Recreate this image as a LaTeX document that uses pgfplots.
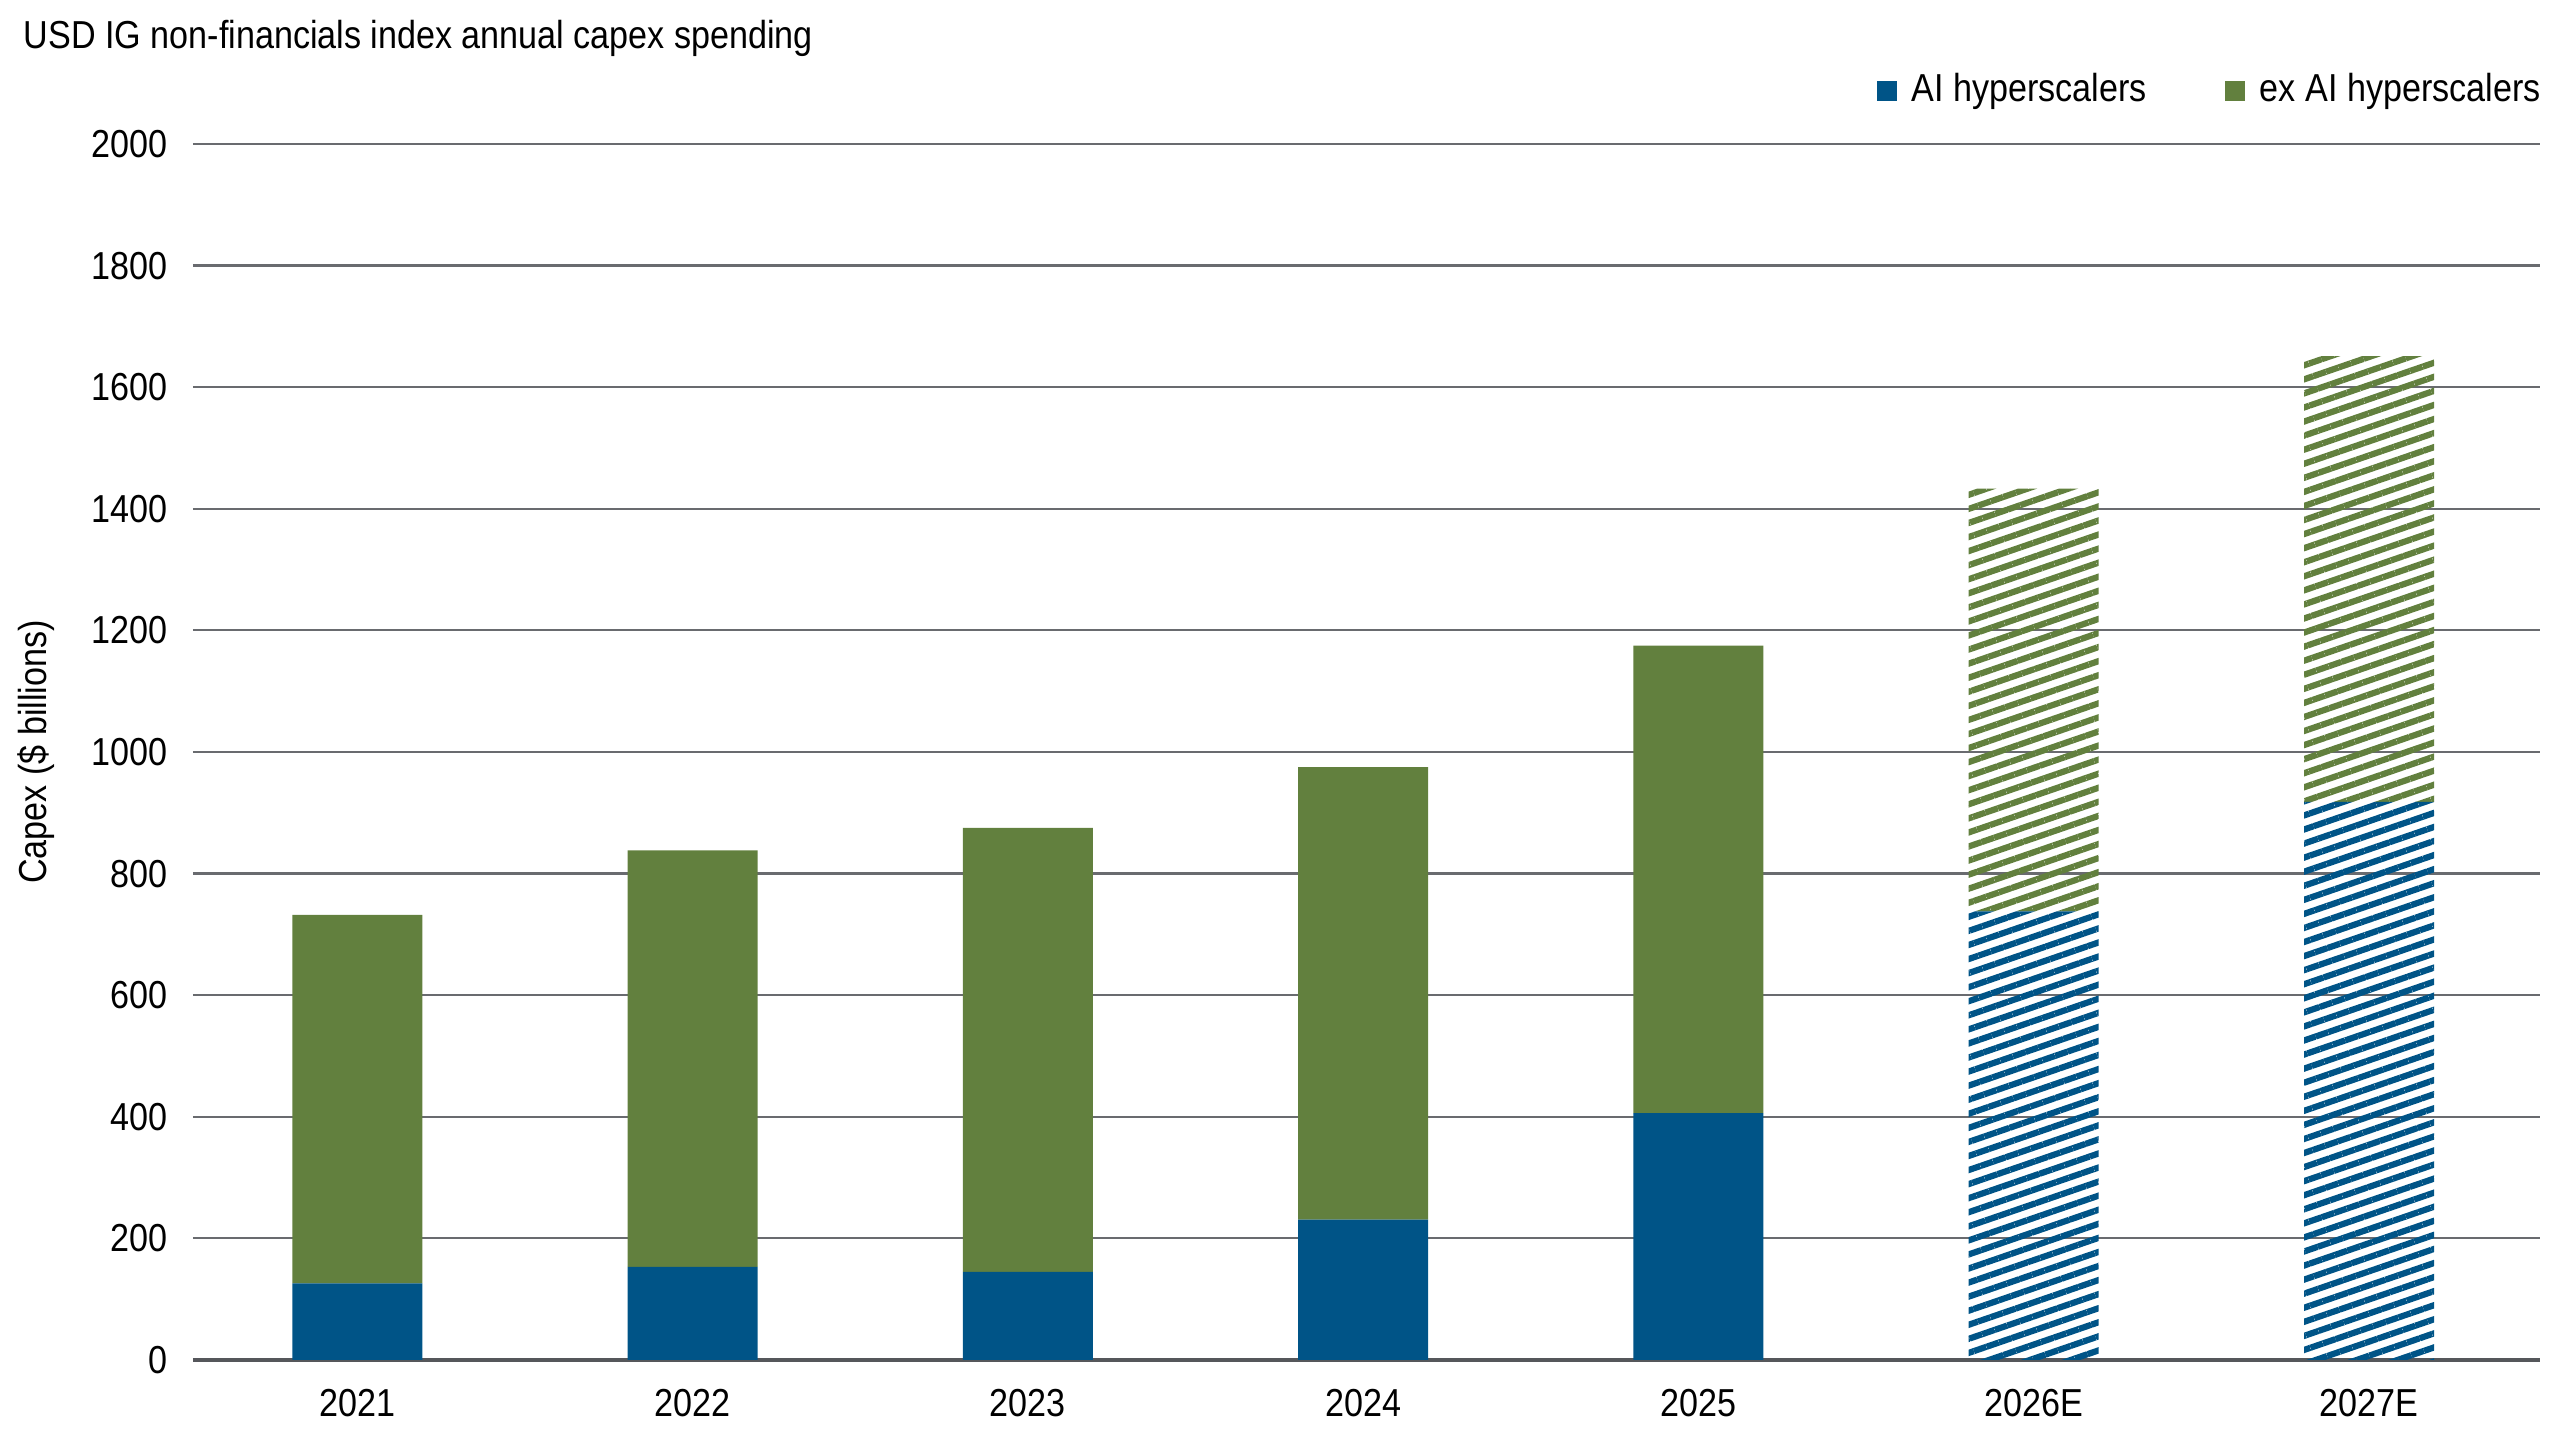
\documentclass[border=0pt]{standalone}
\usepackage{fontspec}
\setmainfont{Liberation Sans}[FakeStretch=0.875]
\usepackage{pgfplots}
\pgfplotsset{compat=1.18}
\usetikzlibrary{patterns.meta}
\definecolor{hblue}{RGB}{0,84,135}
\definecolor{hgreen}{RGB}{98,128,62}
\definecolor{gridgray}{RGB}{105,107,111}
\definecolor{axisgray}{RGB}{85,87,91}
\newcommand{\cf}{\fontsize{11.1pt}{13pt}\selectfont}
\begin{document}
\begin{tikzpicture}[font=\cf]
\path[use as bounding box] (0,0) rectangle (256mm,144mm);
\node[anchor=base west, inner sep=0pt] at (2.3mm,139.1mm) {USD IG non-financials index annual capex spending};
\begin{axis}[
  at={(19.3mm,8mm)}, anchor=south west,
  scale only axis, width=234.7mm, height=121.6mm,
  ybar stacked, bar width=13mm,
  xmin=-0.49, xmax=6.51, ymin=0, ymax=2000,
  xtick={0,1,2,3,4,5,6},
  xticklabels={2021,2022,2023,2024,2025,2026E,2027E},
  ytick={0,200,...,2000},
  major tick length=0pt,
  /pgf/number format/assume math mode=true,
  /pgf/number format/1000 sep={},
  tick label style={font=\cf, text=black},
  xticklabel style={yshift=-1.7mm},
  yticklabel style={xshift=-1.3mm},
  ymajorgrids, grid style={gridgray, line width=0.22mm},
  axis x line*=bottom, axis y line*=left,
  x axis line style={axisgray, line width=0.45mm, -},
  y axis line style={draw=none},
  ylabel={Capex (\$ billions)},
  ylabel style={font=\cf, at={(axis description cs:-0.0669,0.5)}, anchor=center},
  legend style={at={(rel axis cs:1,1)}, anchor=south east, draw=none, fill=none,
    font=\cf, legend columns=2, yshift=2.5mm, xshift=1.6mm,
    /tikz/every odd column/.append style={column sep=1.1mm},
    /tikz/every even column/.append style={column sep=7.4mm},
    nodes={inner sep=0.4mm}},
  legend image code/.code={\fill[#1] (0mm,-1.05mm) rectangle (2.0mm,0.95mm);},
  legend cell align=left,
]
\addplot[fill=hblue, draw=none] coordinates {(0,126) (1,153) (2,145) (3,231) (4,406) (5,0) (6,0)};
\addplot[fill=hgreen, draw=none] coordinates {(0,606) (1,685) (2,730) (3,744) (4,769) (5,0) (6,0)};
\addplot[draw=none, pattern={Lines[angle=19,distance=1.33mm,line width=0.62mm]}, pattern color=hblue] coordinates {(0,0) (1,0) (2,0) (3,0) (4,0) (5,738) (6,918)};
\addplot[draw=none, pattern={Lines[angle=19,distance=1.33mm,line width=0.62mm]}, pattern color=hgreen] coordinates {(0,0) (1,0) (2,0) (3,0) (4,0) (5,695) (6,733)};
\legend{AI hyperscalers, ex AI hyperscalers}
\end{axis}
\end{tikzpicture}
\end{document}
